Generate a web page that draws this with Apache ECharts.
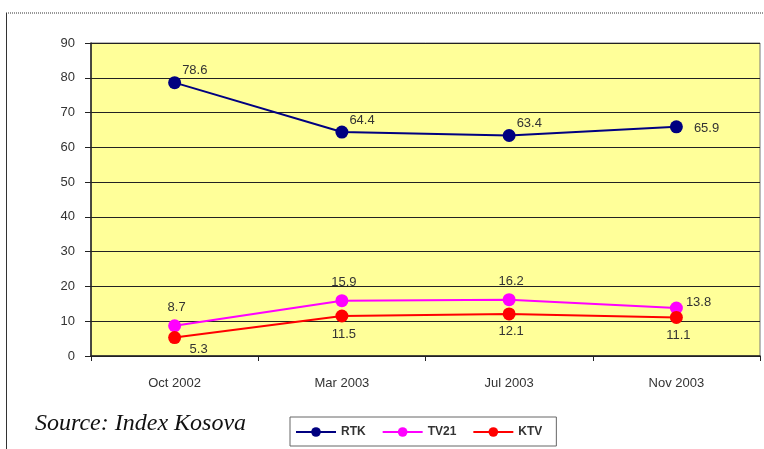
<!DOCTYPE html>
<html>
<head>
<meta charset="utf-8">
<script src="https://cdn.jsdelivr.net/npm/echarts@6/dist/echarts.min.js"></script>
<style>
html, body { margin: 0; padding: 0; background: #fff; }
#chart { width: 764px; height: 449px; }
</style>
</head>
<body>
<div id="chart"></div>
<script>
// categories and values
var periods = ['Oct 2002', 'Mar 2003', 'Jul 2003', 'Nov 2003'];
var rtk = [78.6, 64.4, 63.4, 65.9];
var tv21 = [8.7, 15.9, 16.2, 13.8];
var ktv = [5.3, 11.5, 12.1, 11.1];
var yTicks = [0, 10, 20, 30, 40, 50, 60, 70, 80, 90];

var my_chart = echarts.init(document.getElementById('chart'));

var labelStyle = function (pos, offset) {
    return {
        show: true,
        position: pos,
        offset: offset,
        fontFamily: 'Arial, Liberation Sans',
        fontSize: 13,
        color: '#333'
    };
};

var option = {
    backgroundColor: '#fff',
    animation: false,
    graphic: [
        // outer frame: dotted top and left border
        { type: 'line', shape: { x1: 6, y1: 13, x2: 764, y2: 13 }, style: { stroke: '#777', lineWidth: 1.5, lineDash: [1, 1] } },
        { type: 'line', shape: { x1: 6.5, y1: 13, x2: 6.5, y2: 449 }, style: { stroke: '#333', lineWidth: 1 } },
        {
            type: 'text', left: 35, top: 412,
            style: { text: 'Source: Index Kosova', font: 'italic 24px "Liberation Serif", "DejaVu Serif", serif', fill: '#111' }
        }
    ],
    grid: {
        left: 91,
        right: 4,
        top: 43,
        bottom: 93,
        show: true,
        backgroundColor: '#ffff99',
        borderColor: '#777',
        borderWidth: 1
    },
    legend: {
        data: ['RTK', 'TV21', 'KTV'],
        left: 290,
        top: 417,
        padding: [9, 14, 8, 5],
        itemGap: 16,
        itemWidth: 40,
        itemHeight: 12,
        borderColor: '#666',
        borderWidth: 1,
        textStyle: { fontFamily: 'Arial, Liberation Sans', fontSize: 12, color: '#333', fontWeight: 'bold' }
    },
    xAxis: {
        type: 'category',
        data: periods,
        boundaryGap: true,
        axisLine: { lineStyle: { color: '#222', width: 1.5 } },
        axisTick: { show: true, length: 5, lineStyle: { color: '#222' }, interval: 0 },
        axisLabel: { margin: 21, fontFamily: 'Arial, Liberation Sans', fontSize: 13, color: '#333' },
        splitLine: { show: false }
    },
    yAxis: {
        type: 'value',
        min: yTicks[0],
        max: yTicks[yTicks.length - 1],
        interval: 10,
        axisLine: { show: true, lineStyle: { color: '#222', width: 1.5 } },
        axisTick: { show: true, length: 6, lineStyle: { color: '#222' } },
        axisLabel: { margin: 16, fontFamily: 'Arial, Liberation Sans', fontSize: 13, color: '#333' },
        splitLine: { show: true, lineStyle: { color: '#222', width: 1.2 } }
    },
    series: [
        {
            name: 'RTK',
            type: 'line',
            data: rtk,
            symbol: 'circle',
            symbolSize: 13,
            color: '#000080',
            lineStyle: { width: 2, color: '#000080' },
            label: labelStyle('right', [-4, -12])
        },
        {
            name: 'TV21',
            type: 'line',
            data: tv21,
            symbol: 'circle',
            symbolSize: 13,
            color: '#ff00ff',
            lineStyle: { width: 2, color: '#ff00ff' },
            label: labelStyle('top', [2, 0])
        },
        {
            name: 'KTV',
            type: 'line',
            data: ktv,
            symbol: 'circle',
            symbolSize: 13,
            color: '#ff0000',
            lineStyle: { width: 2, color: '#ff0000' },
            label: labelStyle('bottom', [2, 0])
        }
    ]
};

// per-point label placements as in the original
option.series[0].data = rtk.map(function (v, i) {
    if (i === 3) return { value: v, label: { position: 'right', offset: [6, 2] } };
    return v;
});
option.series[1].data = tv21.map(function (v, i) {
    if (i === 3) return { value: v, label: { position: 'right', offset: [-2, -6] } };
    return v;
});
option.series[2].data = ktv.map(function (v, i) {
    if (i === 0) return { value: v, label: { position: 'bottom', offset: [24, -6] } };
    return v;
});

my_chart.setOption(option);
</script>
</body>
</html>
